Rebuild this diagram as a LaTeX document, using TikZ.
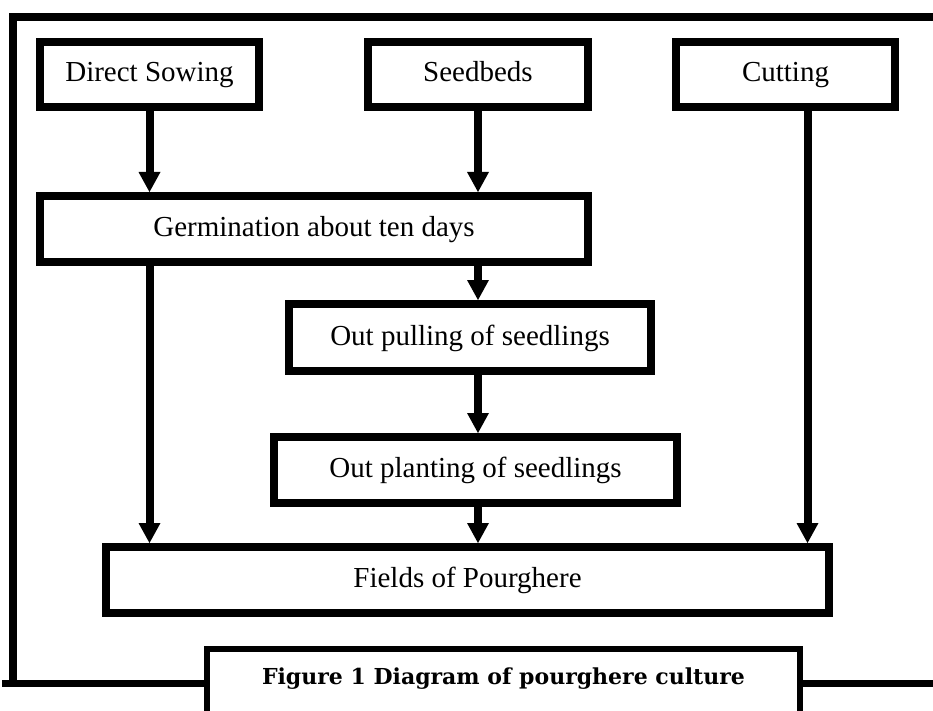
\documentclass[tikz,border=0pt]{standalone}
\usepackage{fontspec}
\setmainfont{Liberation Serif}
\newfontfamily\capfont{DejaVu Serif}
\usetikzlibrary{arrows.meta}
\begin{document}
\begin{tikzpicture}[x=1pt, y=-1pt,
    box/.style={draw, line width=8pt, inner sep=0pt, minimum height=66pt,
                text height=21pt, text depth=6pt, font=\fontsize{29}{34}\selectfont},
    flow/.style={-{Triangle[width=22pt,length=20pt,line width=0pt]}, line width=8pt}]
    \clip (0,0) rectangle (933,711);
    % sources
    \node[box, minimum width=219pt, minimum height=65pt] (sow) at (149.5,74.5) {Direct Sowing};
    \node[box, minimum width=220pt, minimum height=65pt] (bed) at (478,74.5) {Seedbeds};
    \node[box, minimum width=219pt, minimum height=65pt] (cut) at (785.5,74.5) {Cutting};
    % steps
    \node[box, minimum width=548pt] (germ) at (314,229) {Germination about ten days};
    \node[box, minimum width=362pt, minimum height=67pt] (pull) at (470,337.5) {Out pulling of seedlings};
    \node[box, minimum width=403pt] (plant) at (475.5,470) {Out planting of seedlings};
    \node[box, minimum width=723pt] (field) at (467.5,580) {Fields of Pourghere};
    % caption
    \node[draw, line width=6pt, outer sep=0pt, anchor=north, minimum width=593pt,
          inner ysep=19pt, text height=16pt, text depth=60pt,
          font=\capfont\bfseries\fontsize{22}{26}\selectfont] (capt) at (503.5,649)
          {Figure 1 Diagram of pourghere culture};
    % frame
    \coordinate (fl) at (2,683);
    \coordinate (fr) at (933,683);
    \draw[line width=8pt] (933,17) -- (13,17) -- (13,683);
    \draw[line width=7pt] (fl) -- (fl -| capt.west);
    \draw[line width=7pt] (capt.east |- fr) -- (fr);
    % arrows
    \draw[flow] (sow.south) -- (sow.south |- germ.north);
    \foreach \a/\b in {bed/germ, germ/pull, pull/plant, plant/field}
    \draw[flow] (bed.south |- \a.south) -- (bed.south |- \b.north);
    \draw[flow] (sow.south |- germ.south) -- (sow.south |- field.north);
    \draw[flow] ([xshift=22pt]cut.south) -- ([xshift=22pt]cut.south |- field.north);
\end{tikzpicture}
\end{document}
